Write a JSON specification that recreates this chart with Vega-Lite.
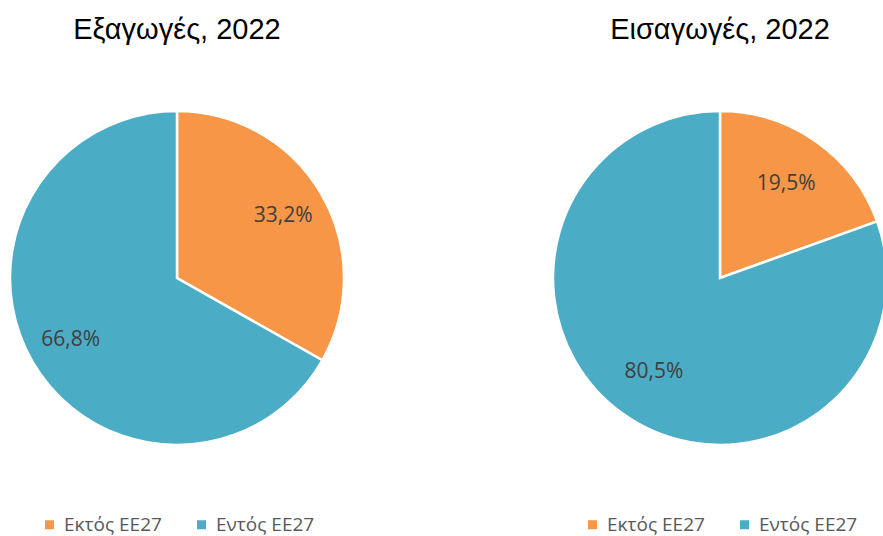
{
  "$schema": "https://vega.github.io/schema/vega-lite/v6.json",
  "padding": {"top": 16, "left": 0, "right": 0, "bottom": 0},
  "background": "white",
  "spacing": 189,
  "datasets": {
    "trade": [
      {"flow": "Εξαγωγές", "region": "Εκτός ΕΕ27", "k": 1, "share": 33.2, "label": "33,2%"},
      {"flow": "Εξαγωγές", "region": "Εντός ΕΕ27", "k": 2, "share": 66.8, "label": "66,8%"},
      {"flow": "Εισαγωγές", "region": "Εκτός ΕΕ27", "k": 1, "share": 19.5, "label": "19,5%"},
      {"flow": "Εισαγωγές", "region": "Εντός ΕΕ27", "k": 2, "share": 80.5, "label": "80,5%"}
    ]
  },
  "config": {
    "view": {"stroke": null},
    "title": {"fontSize": 29, "font": "Liberation Sans", "fontWeight": "normal", "color": "#000000", "offset": 5, "anchor": "middle"},
    "legend": {"labelFont": "Open Sans", "labelFontSize": 19, "labelColor": "#595959"}
  },
  "resolve": {"legend": {"color": "independent"}, "scale": {"color": "independent"}},
  "hconcat": [
    {
      "width": 354,
      "height": 456,
      "title": "Εξαγωγές, 2022",
      "data": {"name": "trade"},
      "transform": [{"filter": "datum.flow === 'Εξαγωγές'"}],
      "encoding": {
        "theta": {"field": "share", "type": "quantitative", "stack": true},
        "order": {"field": "k", "type": "quantitative"}
      },
      "layer": [
        {
          "mark": {"type": "arc", "outerRadius": 167, "stroke": "white", "strokeWidth": 2.5},
          "encoding": {
            "color": {"field": "region", "type": "nominal",
              "scale": {"domain": ["Εκτός ΕΕ27", "Εντός ΕΕ27"], "range": ["#F79646", "#4BACC6"]},
              "legend": {"orient": "none", "legendX": 40, "legendY": 465, "direction": "horizontal", "title": null, "symbolType": "square", "symbolSize": 81, "symbolStrokeWidth": 0, "columnPadding": 30, "labelOffset": 5}}
          }
        },
        {
          "mark": {"type": "text", "radius": 123, "fontSize": 21, "font": "Open Sans", "color": "#404040"},
          "encoding": {"text": {"field": "label"}, "detail": {"field": "region"}}
        }
      ]
    },
    {
      "width": 354,
      "height": 456,
      "title": "Εισαγωγές, 2022",
      "data": {"name": "trade"},
      "transform": [{"filter": "datum.flow === 'Εισαγωγές'"}],
      "encoding": {
        "theta": {"field": "share", "type": "quantitative", "stack": true},
        "order": {"field": "k", "type": "quantitative"}
      },
      "layer": [
        {
          "mark": {"type": "arc", "outerRadius": 167, "stroke": "white", "strokeWidth": 2.5},
          "encoding": {
            "color": {"field": "region", "type": "nominal",
              "scale": {"domain": ["Εκτός ΕΕ27", "Εντός ΕΕ27"], "range": ["#F79646", "#4BACC6"]},
              "legend": {"orient": "none", "legendX": 40, "legendY": 465, "direction": "horizontal", "title": null, "symbolType": "square", "symbolSize": 81, "symbolStrokeWidth": 0, "columnPadding": 30, "labelOffset": 5}}
          }
        },
        {
          "mark": {"type": "text", "radius": 115, "fontSize": 21, "font": "Open Sans", "color": "#404040"},
          "encoding": {"text": {"field": "label"}, "detail": {"field": "region"}}
        }
      ]
    }
  ]
}
